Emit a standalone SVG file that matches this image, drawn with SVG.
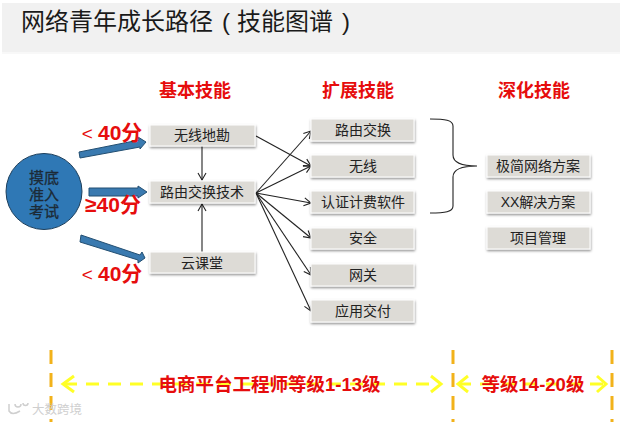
<svg xmlns="http://www.w3.org/2000/svg" width="620" height="422" viewBox="0 0 620 422">
<style>
text{font-family:"Liberation Sans","Noto Sans CJK SC",sans-serif;text-anchor:middle}
.box{fill:#dddbd6;stroke:#fff;stroke-width:1;filter:url(#sh)}
.t{font-size:14px;fill:#222}
.c{font-size:15px;fill:#1c2a36;stroke:#1c2a36;stroke-width:.3}
.h{font-size:18px;font-weight:bold;fill:#e60d0d}
.s{font-size:21px;font-weight:bold;fill:#e60d0d}
.lt{font-size:19px;font-weight:normal}
.b{font-size:18.500px;font-weight:bold;fill:#e60d0d}
.line{fill:none;stroke:#222;stroke-width:1.1;marker-end:url(#a)}
.fat{fill:#3a7ab0;stroke:#234f72;stroke-width:1}
.o{stroke:#f2b21a;stroke-width:3;stroke-dasharray:14 9;fill:none}
.y{stroke:#ffff26;stroke-width:3;stroke-dasharray:13 9;fill:none}
.yh{stroke:#ffff26;stroke-width:3;fill:none}
.w{font-size:12.500px;fill:#cfcfcf}
</style>
<defs>
<filter id="sh" x="-5%" y="-15%" width="110%" height="135%"><feDropShadow dx="0.5" dy="1.5" stdDeviation="1" flood-color="#000" flood-opacity=".45"/></filter>
<marker id="a" markerWidth="10" markerHeight="10" refX="8" refY="5" orient="auto" markerUnits="userSpaceOnUse"><path d="M1 1L8 5L1 9" fill="none" stroke="#222" stroke-width="1.1"/></marker>
</defs>
<rect width="620" height="422" fill="#fff"/>
<rect x="2" y="3" width="618" height="49" fill="#f1f1f1"/>
<rect x="2" y="52" width="618" height="2" fill="#f8f8f8"/>
<text x="21" y="30" style="text-anchor:start;font-size:24px" fill="#1a1a1a">网络青年成长路径</text>
<text x="226" y="30" style="font-size:24px" fill="#1a1a1a">(</text>
<text x="237" y="30" style="text-anchor:start;font-size:24px" fill="#1a1a1a">技能图谱</text>
<text x="346" y="30" style="font-size:24px" fill="#1a1a1a">)</text>
<text class="h" x="195" y="97">基本技能</text>
<text class="h" x="358" y="97">扩展技能</text>
<text class="h" x="534" y="97">深化技能</text>
<g id="connectors">
<path class="fat" d="M79 152L80 158L140 147L140 149L146 142L138 137L139 140Z"/>
<path class="fat" d="M89 188H138V186L147 192L138 198V196H89Z"/>
<path class="fat" d="M81 235L80 242L138 260L138 263L145 258L142 252L140 255Z"/>
<path class="line" d="M202 146V180"/>
<path class="line" d="M202 252V204"/>
<path class="line" d="M256 136L311 166"/>
<path class="line" d="M256 193L311 131"/>
<path class="line" d="M256 193L311 166"/>
<path class="line" d="M256 193L311 203"/>
<path class="line" d="M256 193L311 238"/>
<path class="line" d="M256 193L311 275"/>
<path class="line" d="M256 193L311 311"/>
<path d="M430 119C445 119 453 120 453 126V155C453 162 460 166 477 166C460 166 453 170 453 177V206C453 212 445 213 430 213" fill="none" stroke="#222" stroke-width="1.1"/>
<path class="o" d="M51 350V422"/>
<path class="o" d="M453 350V422"/>
<path class="o" d="M612 350V422"/>
<path class="y" d="M64 384H438"/>
<path class="yh" d="M74 376L63 384L74 392"/>
<path class="yh" d="M431 376L441 384L431 392"/>
<path class="y" d="M458 384H604"/>
<path class="yh" d="M468 376L458 384L468 392"/>
<path class="yh" d="M597 376L606 384L597 392"/>
</g>
<g id="n-start"><circle cx="44" cy="191.500" r="38" fill="#2f78b5" stroke="#1d3f5c" stroke-width="1"/>
<text class="c" x="44" y="183">摸底</text><text class="c" x="44" y="200">准入</text><text class="c" x="44" y="217">考试</text></g>
<g id="n-b1"><rect class="box" x="150" y="125" width="105" height="21"/><text class="t" x="202" y="140">无线地勘</text></g>
<g id="n-b2"><rect class="box" x="150" y="181" width="105" height="22"/><text class="t" x="202" y="197">路由交换技术</text></g>
<g id="n-b3"><rect class="box" x="150" y="252" width="105" height="21"/><text class="t" x="202" y="268">云课堂</text></g>
<g id="n-e1"><rect class="box" x="311" y="119" width="103" height="22"/><text class="t" x="363" y="135">路由交换</text></g>
<g id="n-e2"><rect class="box" x="311" y="155" width="103" height="22"/><text class="t" x="363" y="171">无线</text></g>
<g id="n-e3"><rect class="box" x="311" y="191" width="103" height="22"/><text class="t" x="363" y="207">认证计费软件</text></g>
<g id="n-e4"><rect class="box" x="311" y="228" width="103" height="21"/><text class="t" x="363" y="243">安全</text></g>
<g id="n-e5"><rect class="box" x="311" y="264" width="103" height="22"/><text class="t" x="363" y="280">网关</text></g>
<g id="n-e6"><rect class="box" x="311" y="300" width="103" height="22"/><text class="t" x="363" y="316">应用交付</text></g>
<g id="n-d1"><rect class="box" x="487" y="155" width="103" height="22"/><text class="t" x="538" y="171">极简网络方案</text></g>
<g id="n-d2"><rect class="box" x="487" y="191" width="103" height="22"/><text class="t" x="538" y="207">XX解决方案</text></g>
<g id="n-d3"><rect class="box" x="487" y="227" width="103" height="22"/><text class="t" x="538" y="243">项目管理</text></g>
<text class="s" x="112" y="140"><tspan class="lt">&lt; </tspan>40分</text>
<text class="s" x="113" y="212">≥40分</text>
<text class="s" x="112" y="281"><tspan class="lt">&lt; </tspan>40分</text>
<text class="b" x="269.500" y="391">电商平台工程师等级1-13级</text>
<text class="b" x="533" y="391">等级14-20级</text>
<text class="w" x="57" y="414">大数跨境</text>
<path d="M9 404V411Q12 416 20 411M15 404a3 3 0 1 0 6 0M23 403a2.500 2.500 0 1 0 5 0" fill="none" stroke="#cfcfcf" stroke-width="1.500"/>
</svg>
